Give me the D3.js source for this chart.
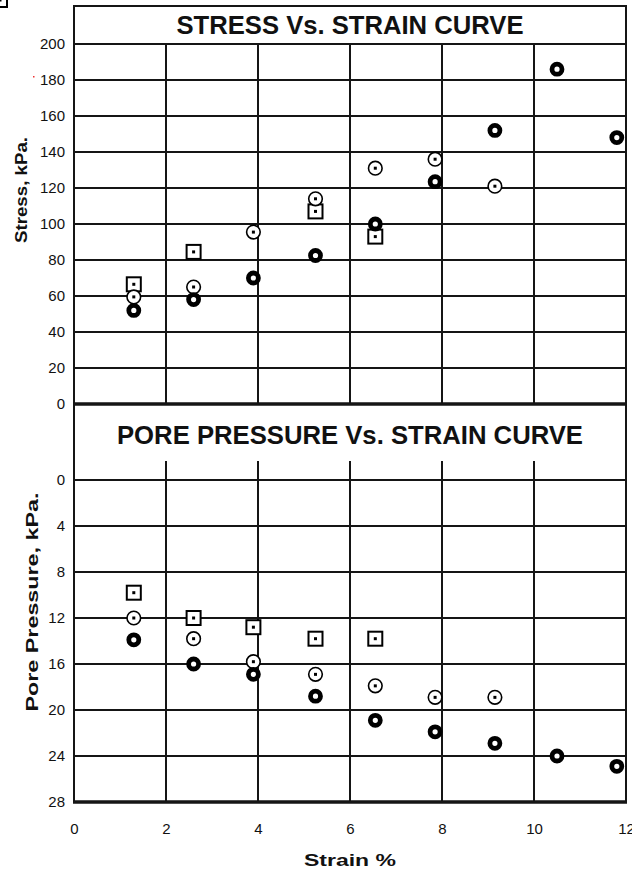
<!DOCTYPE html>
<html>
<head>
<meta charset="utf-8">
<script src="https://cdn.jsdelivr.net/npm/d3@7"></script>
<style>
  html, body { margin: 0; padding: 0; background: #fff; }
  svg { display: block; }
  text { font-family: "Liberation Sans", Arial, sans-serif; fill: #111; }
</style>
</head>
<body>
<script>
// ---------- DATA ----------
const strain = [1.3, 2.6, 3.9, 5.25, 6.55, 7.85, 9.15, 10.5, 11.8];

// Stress vs strain (kPa)
const stressSolid  = [52, 58, 70, 82.5, 100, 123.5, 152, 186, 148];   // bold rings
const stressDotted = [59.5, 65, 95.5, 114, 131, 136, 121];            // dotted circles
const stressSquareStrain = [1.3, 2.6, 5.25, 6.55];
const stressSquare = [66.5, 84.5, 107, 93];                            // squares

// Pore pressure vs strain (kPa)
const poreSolid  = [13.9, 16, 16.9, 18.8, 20.9, 21.9, 22.9, 24, 24.9];
const poreDotted = [12, 13.8, 15.8, 16.9, 17.9, 18.9, 18.9];
const poreSquare = [9.8, 12, 12.8, 13.8, 13.8];

const xTicks = [0, 2, 4, 6, 8, 10, 12];
const stressTicks = [0, 20, 40, 60, 80, 100, 120, 140, 160, 180, 200];
const poreTicks = [0, 4, 8, 12, 16, 20, 24, 28];

const titleTop = "STRESS Vs. STRAIN CURVE";
const titleBottom = "PORE PRESSURE Vs. STRAIN CURVE";
const yLabelTop = "Stress, kPa.";
const yLabelBottom = "Pore Pressure, kPa.";
const xLabel = "Strain %";

// ---------- LAYOUT ----------
const W = 632, H = 876;
const L = 74, R = 626;
const topFrame = 6, topY200 = 44, topY0 = 404;
const botFrame = 404, botY0 = 480, botY28 = 802;
const lineCol = "#151515";

const svg = d3.select("body").append("svg").attr("width", W).attr("height", H);

const x = d3.scaleLinear().domain([0, 12]).range([L, R]);
const yS = d3.scaleLinear().domain([0, 200]).range([topY0, topY200]);
const yP = d3.scaleLinear().domain([0, 28]).range([botY0, botY28]);

// ---------- GRID: TOP ----------
const gTop = svg.append("g");
// horizontal grid lines
gTop.selectAll("line.h").data(stressTicks.filter(d => d > 0 && d < 200)).join("line")
  .attr("x1", L).attr("x2", R).attr("y1", d => yS(d)).attr("y2", d => yS(d))
  .attr("stroke", lineCol).attr("stroke-width", 2);
// vertical grid lines
gTop.selectAll("line.v").data(xTicks.filter(d => d > 0 && d < 12)).join("line")
  .attr("x1", d => x(d)).attr("x2", d => x(d)).attr("y1", yS(200)).attr("y2", yS(0))
  .attr("stroke", lineCol).attr("stroke-width", 2);
// title band border (200 line)
gTop.append("line").attr("x1", L).attr("x2", R).attr("y1", yS(200)).attr("y2", yS(200))
  .attr("stroke", lineCol).attr("stroke-width", 2);
// frame
gTop.append("rect").attr("x", L).attr("y", topFrame).attr("width", R - L).attr("height", topY0 - topFrame)
  .attr("fill", "none").attr("stroke", lineCol).attr("stroke-width", 2);

// ---------- GRID: BOTTOM ----------
const gBot = svg.append("g");
gBot.selectAll("line.h").data(poreTicks.filter(d => d < 28)).join("line")
  .attr("x1", L).attr("x2", R).attr("y1", d => yP(d)).attr("y2", d => yP(d))
  .attr("stroke", lineCol).attr("stroke-width", 2);
gBot.selectAll("line.v").data(xTicks.filter(d => d > 0 && d < 12)).join("line")
  .attr("x1", d => x(d)).attr("x2", d => x(d)).attr("y1", yP(0) - 19).attr("y2", yP(28))
  .attr("stroke", lineCol).attr("stroke-width", 2);
gBot.append("rect").attr("x", L).attr("y", botFrame).attr("width", R - L).attr("height", botY28 - botFrame)
  .attr("fill", "none").attr("stroke", lineCol).attr("stroke-width", 2);
// thick lines: top panel zero and bottom axis
svg.append("line").attr("x1", L - 1).attr("x2", R + 1).attr("y1", topY0).attr("y2", topY0)
  .attr("stroke", lineCol).attr("stroke-width", 3.5);
svg.append("line").attr("x1", L - 1).attr("x2", R + 1).attr("y1", botY28).attr("y2", botY28)
  .attr("stroke", lineCol).attr("stroke-width", 3.5);

// ---------- AXES (labels) ----------
const axS = d3.axisLeft(yS).tickValues(stressTicks).tickSize(0).tickPadding(9);
svg.append("g").attr("transform", `translate(${L},0)`).call(axS)
  .call(g => g.select(".domain").remove())
  .call(g => g.selectAll("text").attr("font-size", 15).attr("font-family", "Liberation Sans, Arial").attr("fill", "#111"));

const axP = d3.axisLeft(yP).tickValues(poreTicks).tickSize(0).tickPadding(9);
svg.append("g").attr("transform", `translate(${L},0)`).call(axP)
  .call(g => g.select(".domain").remove())
  .call(g => g.selectAll("text").attr("font-size", 15).attr("font-family", "Liberation Sans, Arial").attr("fill", "#111"));

const axX = d3.axisBottom(x).tickValues(xTicks).tickSize(0).tickPadding(21).tickFormat(d3.format("d"));
svg.append("g").attr("transform", `translate(0,${botY28})`).call(axX)
  .call(g => g.select(".domain").remove())
  .call(g => g.selectAll("text").attr("font-size", 15).attr("font-family", "Liberation Sans, Arial").attr("fill", "#111"));

// ---------- TITLES ----------
svg.append("text").attr("x", (L + R) / 2).attr("y", 34).attr("text-anchor", "middle")
  .attr("font-size", 25).attr("font-weight", "bold").attr("textLength", 347).attr("lengthAdjust", "spacingAndGlyphs")
  .text(titleTop);
svg.append("text").attr("x", (L + R) / 2).attr("y", 444).attr("text-anchor", "middle")
  .attr("font-size", 25).attr("font-weight", "bold").attr("textLength", 466).attr("lengthAdjust", "spacingAndGlyphs")
  .text(titleBottom);

svg.append("text").attr("transform", "translate(27,190) rotate(-90)").attr("text-anchor", "middle")
  .attr("font-size", 17).attr("font-weight", "bold").attr("textLength", 106).attr("lengthAdjust", "spacingAndGlyphs")
  .text(yLabelTop);
svg.append("text").attr("transform", "translate(38,602) rotate(-90)").attr("text-anchor", "middle")
  .attr("font-size", 17).attr("font-weight", "bold").attr("textLength", 219).attr("lengthAdjust", "spacingAndGlyphs")
  .text(yLabelBottom);
svg.append("text").attr("x", 350).attr("y", 866).attr("text-anchor", "middle")
  .attr("font-size", 17).attr("font-weight", "bold").attr("textLength", 92).attr("lengthAdjust", "spacingAndGlyphs")
  .text(xLabel);

// stray red pixel near 180 label
svg.append("rect").attr("x", 33).attr("y", 76).attr("width", 1.5).attr("height", 1.5).attr("fill", "#e33");

// ---------- MARKERS ----------
function squares(g, xs, ys, yScale) {
  const d = xs.map((v, i) => [v, ys[i]]);
  const s = g.append("g").selectAll("g").data(d).join("g")
    .attr("transform", p => `translate(${x(p[0])},${yScale(p[1])})`);
  s.append("rect").attr("x", -7).attr("y", -7).attr("width", 14).attr("height", 14)
    .attr("fill", "#fff").attr("stroke", "#000").attr("stroke-width", 2);
  s.append("rect").attr("x", -1.5).attr("y", -1.5).attr("width", 3).attr("height", 3).attr("fill", "#000");
}
function dotted(g, xs, ys, yScale) {
  const d = ys.map((v, i) => [xs[i], v]);
  const s = g.append("g").selectAll("g").data(d).join("g")
    .attr("transform", p => `translate(${x(p[0])},${yScale(p[1])})`);
  s.append("circle").attr("r", 6.8).attr("fill", "#fff").attr("stroke", "#000").attr("stroke-width", 1.6);
  s.append("rect").attr("x", -1.5).attr("y", -1.5).attr("width", 3).attr("height", 3).attr("fill", "#000");
}
function solid(g, xs, ys, yScale) {
  const d = ys.map((v, i) => [xs[i], v]);
  g.append("g").selectAll("circle").data(d).join("circle")
    .attr("cx", p => x(p[0])).attr("cy", p => yScale(p[1]))
    .attr("r", 5).attr("fill", "#fff").attr("stroke", "#000").attr("stroke-width", 4.8);
}

const mk = svg.append("g");
squares(mk, stressSquareStrain, stressSquare, yS);
dotted(mk, strain, stressDotted, yS);
solid(mk, strain, stressSolid, yS);

squares(mk, strain, poreSquare, yP);
dotted(mk, strain, poreDotted, yP);
solid(mk, strain, poreSolid, yP);
</script>
</body>
</html>
